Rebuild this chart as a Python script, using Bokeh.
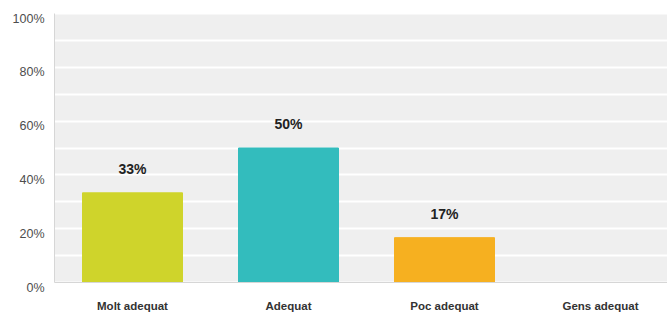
from bokeh.plotting import figure
from bokeh.models import ColumnDataSource, Range1d, FixedTicker, BoxAnnotation
from bokeh.core.properties import value
from bokeh.embed import file_html
from bokeh.resources import INLINE

categories = ["Molt adequat", "Adequat", "Poc adequat", "Gens adequat"]
values = [33.33, 50.0, 16.67, 0.0]
colors = ["#cfd42b", "#33bcbd", "#f6b020", "#999999"]
y_ticks = [0, 20, 40, 60, 80, 100]
y_tick_labels = ["0%", "20%", "40%", "60%", "80%", "100%"]

# layout (pixels)
PLOT_W, PLOT_H = 667, 314
AREA_LEFT, AREA_TOP, AREA_H = 54, 13, 269
FRAME_H = 296
BOTTOM = PLOT_H - FRAME_H
CAT_W = 156.0

xs = list(range(len(categories)))
labels = [f"{round(v)}%" if v > 0 else "" for v in values]
src = ColumnDataSource(dict(x=xs, top=values, color=colors, label=labels))

GX0 = -0.5                                   # left edge of grey plotting area
X0 = GX0 - AREA_LEFT / CAT_W
X1 = GX0 + (PLOT_W - AREA_LEFT) / CAT_W
YMAX = 100.0 * (AREA_H + AREA_TOP) / AREA_H
YMIN = -100.0 * (FRAME_H - AREA_TOP - AREA_H) / AREA_H

p = figure(frame_width=PLOT_W, frame_height=FRAME_H, output_backend="svg",
           toolbar_location=None, x_range=Range1d(X0, X1), y_range=Range1d(YMIN, YMAX),
           min_border_left=0, min_border_right=0, min_border_top=0, min_border_bottom=BOTTOM)
p.background_fill_color = "white"
p.border_fill_color = "white"
p.outline_line_color = None

p.add_layout(BoxAnnotation(left=GX0, bottom=0, top=100, fill_color="#efefef", fill_alpha=1,
                           line_color=None, level="image"))

p.vbar(x="x", top="top", bottom=0, width=100 / CAT_W, color="color", source=src)
p.text(x="x", y="top", text="label", source=src, y_offset=-24,
       text_align="center", text_baseline="alphabetic",
       text_font=value("Liberation Sans"), text_font_style="bold",
       text_font_size="14px", text_color="#222222")

# y tick labels
ysrc = ColumnDataSource(dict(x=[GX0] * len(y_ticks), y=y_ticks, t=y_tick_labels))
p.text(x="x", y="y", text="t", source=ysrc, x_offset=-10, y_offset=5,
       text_align="right", text_baseline="middle",
       text_font=value("Liberation Sans"), text_font_size="12.5px", text_color="#4d4d4d")
# left and bottom borders of plotting area
p.segment(x0=[GX0, GX0], y0=[0, 0], x1=[GX0, X1], y1=[100, 0], line_color="#d6d6d6", line_width=1)

p.yaxis.visible = False

p.xaxis.ticker = FixedTicker(ticks=xs)
p.xaxis.major_label_overrides = {i: c for i, c in enumerate(categories)}
p.xaxis.major_label_text_font = "Liberation Sans"
p.xaxis.major_label_text_font_style = "bold"
p.xaxis.major_label_text_font_size = "11.5px"
p.xaxis.major_label_text_color = "#333333"
p.xaxis.major_label_standoff = 3
p.xaxis.major_tick_line_color = None
p.xaxis.major_tick_out = 0
p.xaxis.major_tick_in = 0
p.xaxis.minor_tick_line_color = None
p.xaxis.axis_line_color = None

p.xgrid.grid_line_color = None
p.ygrid.ticker = FixedTicker(ticks=list(range(0, 101, 10)))
p.ygrid.grid_line_color = "white"
p.ygrid.grid_line_width = 2

open("out.html", "w").write(file_html(p, INLINE))
